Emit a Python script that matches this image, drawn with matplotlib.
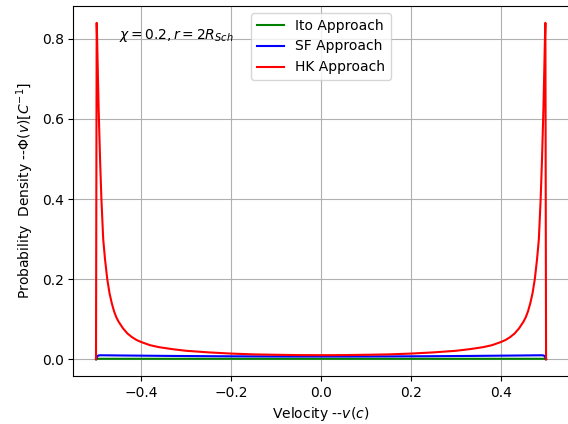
import matplotlib
matplotlib.use("Agg")
import matplotlib.pyplot as plt

# right half of the velocity grid (units of c); the curves are symmetric in v
v_half = [0.0, 0.05, 0.1, 0.15, 0.2, 0.25, 0.3, 0.33, 0.36, 0.38,
          0.4, 0.41, 0.42, 0.43, 0.44, 0.45, 0.455, 0.46, 0.465, 0.47,
          0.475, 0.48, 0.484, 0.488, 0.491, 0.494, 0.496, 0.4975, 0.4985, 0.5]

ito_half = [0.001, 0.001, 0.001, 0.001, 0.001, 0.001, 0.001, 0.001, 0.001, 0.001,
            0.001, 0.001, 0.001, 0.001, 0.001, 0.001, 0.001, 0.001, 0.001, 0.001,
            0.001, 0.001, 0.001, 0.001, 0.001, 0.001, 0.0008, 0.0005, 0.0003, 0.0]

sf_half = [0.0067, 0.0067, 0.0068, 0.007, 0.0072, 0.0075, 0.0079, 0.0081, 0.0084, 0.0086,
           0.0088, 0.0089, 0.009, 0.0091, 0.0092, 0.0093, 0.0094, 0.0094, 0.0095, 0.0096,
           0.0096, 0.0097, 0.0097, 0.0098, 0.0097, 0.0094, 0.0085, 0.006, 0.004, 0.0]

hk_half = [0.010, 0.0102, 0.011, 0.012, 0.014, 0.017, 0.021, 0.025, 0.030, 0.035,
           0.043, 0.048, 0.055, 0.064, 0.077, 0.094, 0.105, 0.12, 0.14, 0.165,
           0.20, 0.25, 0.30, 0.40, 0.50, 0.62, 0.72, 0.80, 0.84, 0.0]


def mirror(vals, neg=False):
    left = [-x if neg else x for x in reversed(vals[1:])]
    return left + list(vals)


v = mirror(v_half, neg=True)
ito = mirror(ito_half)
sf = mirror(sf_half)
hk = mirror(hk_half)

fig = plt.figure(figsize=(5.68, 4.24), dpi=100)
ax = fig.add_subplot(111)
fig.subplots_adjust(left=0.1294, right=1.001, top=0.9858, bottom=0.1132)

ax.plot(v, ito, color="green", label="Ito Approach")
ax.plot(v, sf, color="blue", label="SF Approach")
ax.plot(v, hk, color="red", label="HK Approach")

ax.text(-0.45, 0.8, r"$\chi=0.2, r=2R_{Sch}$")
ax.grid(True)
ax.legend(loc="upper center")
ax.set_xlabel(r"Velocity --$v(c)$")
ax.set_ylabel(r"Probability  Density --$\Phi(v)[C^{-1}]$")

fig.savefig("out.png", dpi=100)
